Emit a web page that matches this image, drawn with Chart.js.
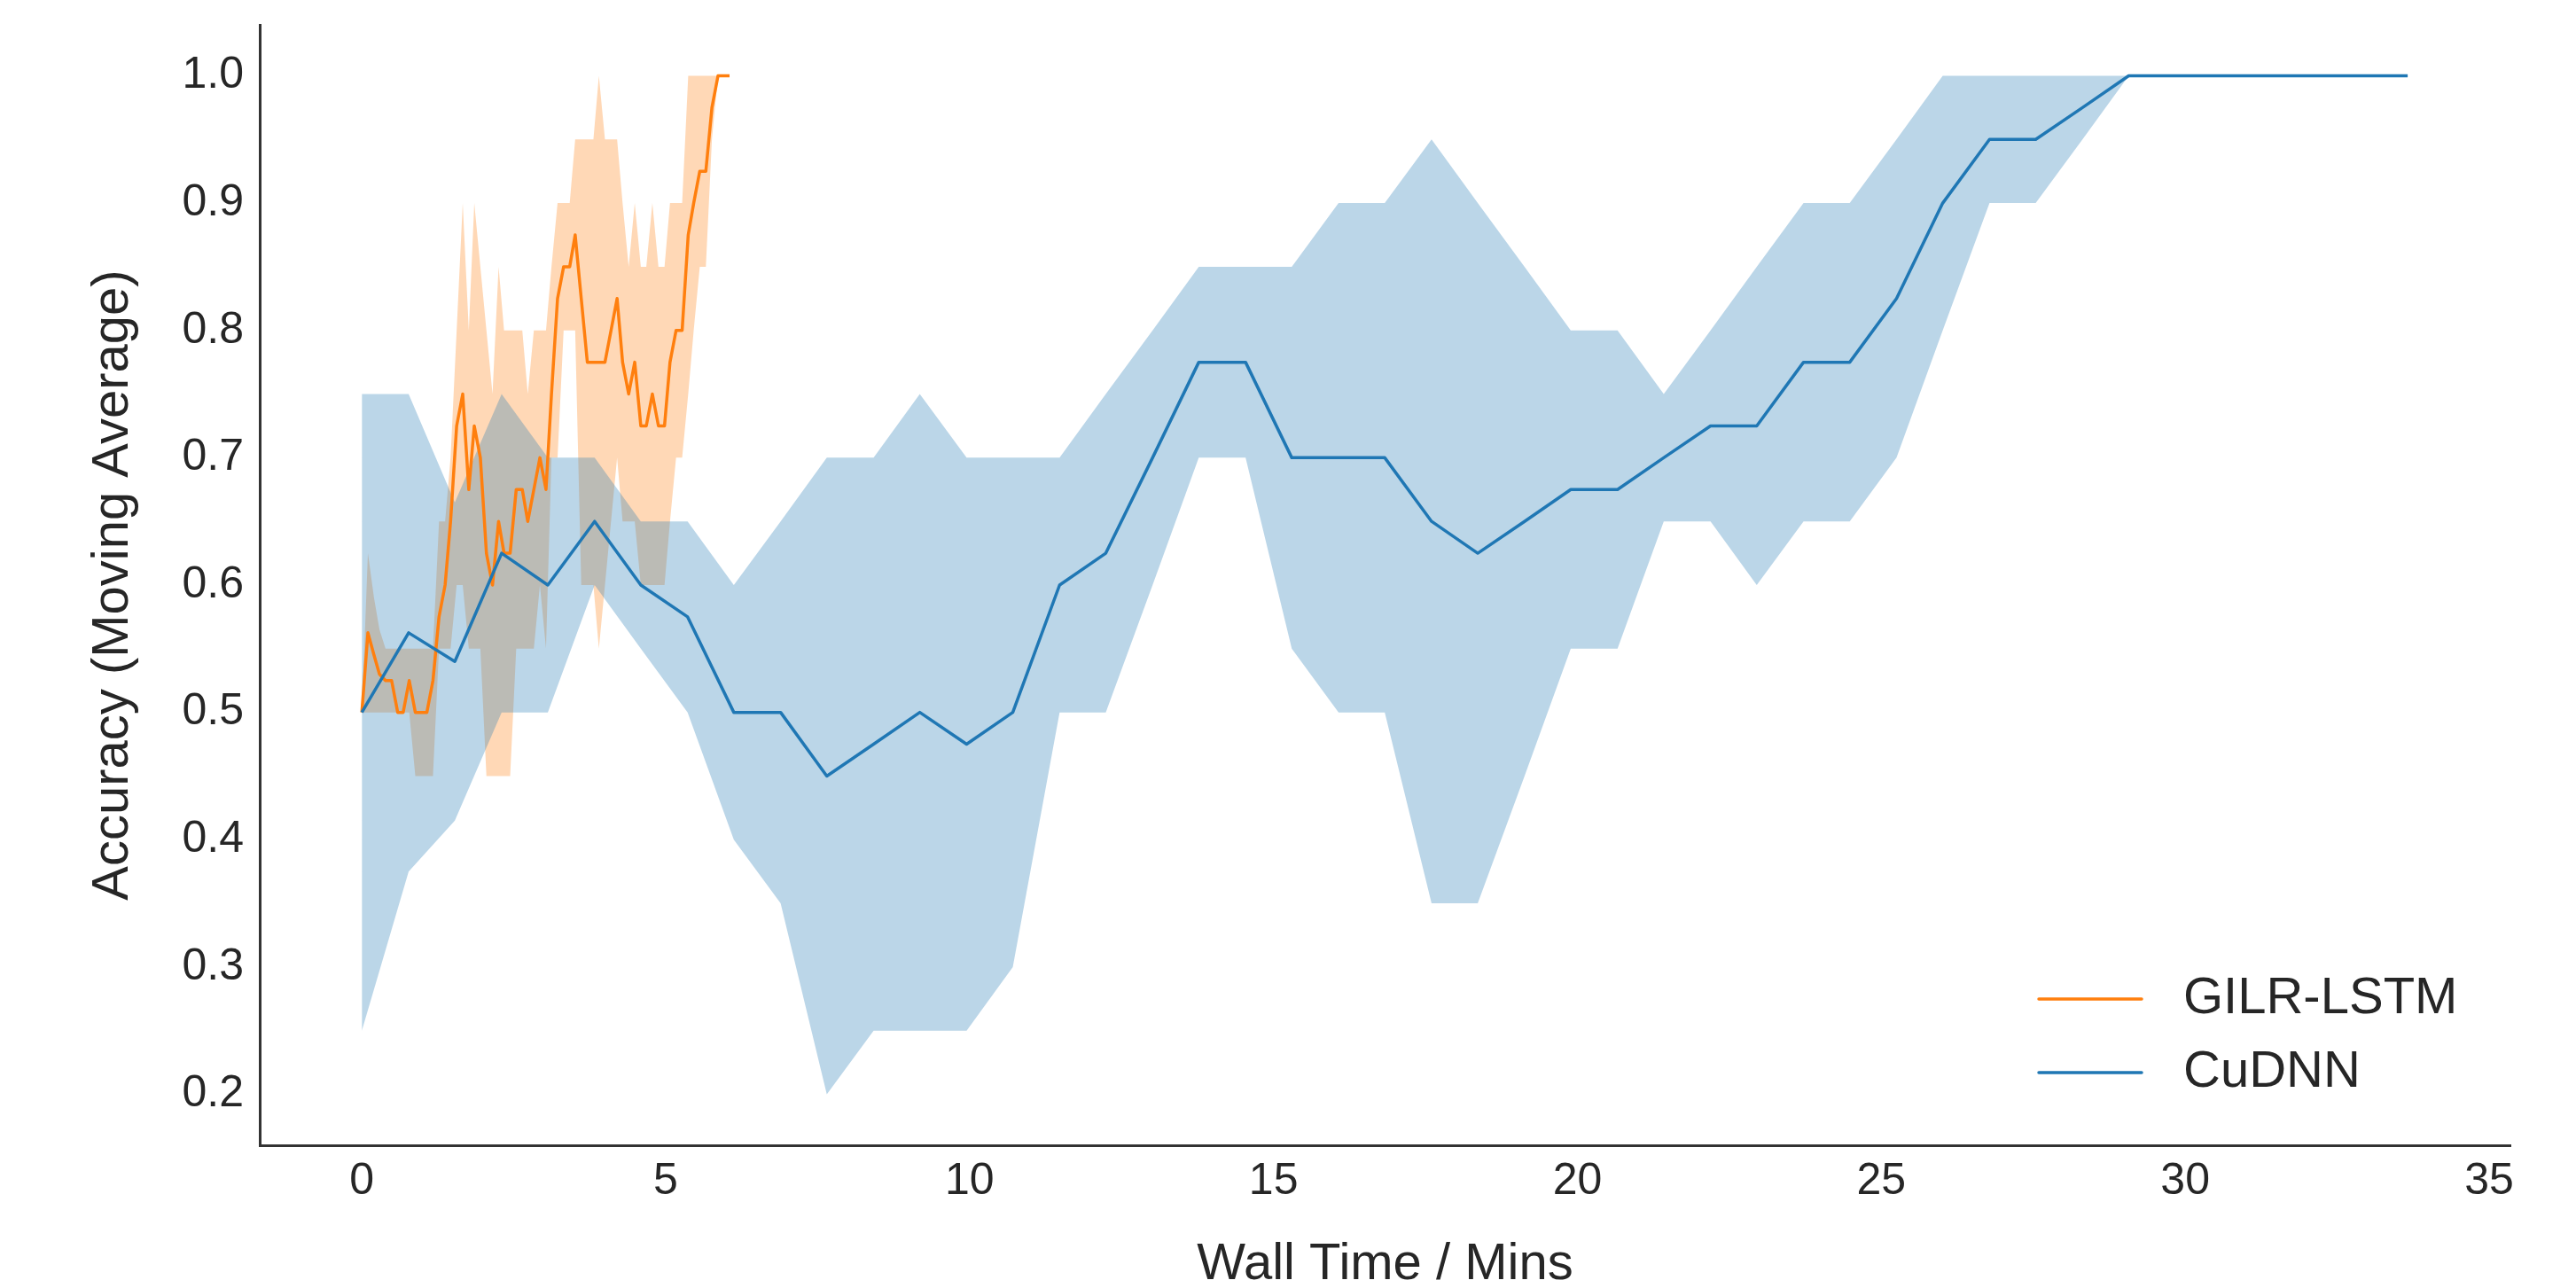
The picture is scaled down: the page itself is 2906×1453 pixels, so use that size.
<!DOCTYPE html>
<html>
<head>
<meta charset="utf-8">
<title>Accuracy vs Wall Time</title>
<script src="https://cdn.jsdelivr.net/npm/chart.js@4.4.1/dist/chart.umd.min.js"></script>
<style>
html,body{margin:0;padding:0;background:#ffffff;overflow:hidden;}
#box{position:relative;width:2906px;height:1453px;}
</style>
</head>
<body>
<div id="box"><canvas id="chart" width="2906" height="1453"></canvas></div>
<script>
const seriesNames = ['GILR-LSTM', 'CuDNN'];

// GILR-LSTM (orange): wall time (mins), moving-average accuracy and band
const gilrTime = [0,0.10,0.20,0.29,0.39,0.49,0.59,0.68,0.78,0.88,0.98,1.07,1.17,1.27,1.37,1.46,1.56,1.66,1.76,1.85,1.95,2.05,2.15,2.25,2.34,2.44,2.54,2.64,2.73,2.83,2.93,3.03,3.12,3.22,3.32,3.42,3.51,3.61,3.71,3.81,3.90,4.00,4.10,4.20,4.29,4.39,4.49,4.59,4.68,4.78,4.88,4.98,5.07,5.17,5.27,5.37,5.46,5.56,5.66,5.76,5.86,5.95,6.05];
const gilrMean = [0.5,0.5625,0.545,0.53,0.525,0.525,0.5,0.5,0.525,0.5,0.5,0.5,0.525,0.575,0.6,0.65,0.725,0.75,0.675,0.725,0.7,0.625,0.6,0.65,0.625,0.625,0.675,0.675,0.65,0.675,0.7,0.675,0.75,0.825,0.85,0.85,0.875,0.825,0.775,0.775,0.775,0.775,0.8,0.825,0.775,0.75,0.775,0.725,0.725,0.75,0.725,0.725,0.775,0.8,0.8,0.875,0.9,0.925,0.925,0.975,1,1,1];
const gilrUpper = [0.5,0.625,0.59,0.565,0.55,0.55,0.55,0.55,0.55,0.55,0.55,0.55,0.55,0.65,0.65,0.7,0.8,0.9,0.8,0.9,0.85,0.8,0.75,0.85,0.8,0.8,0.8,0.8,0.75,0.8,0.8,0.8,0.85,0.9,0.9,0.9,0.95,0.95,0.95,0.95,1,0.95,0.95,0.95,0.9,0.85,0.9,0.85,0.85,0.9,0.85,0.85,0.9,0.9,0.9,1,1,1,1,1,1,1,1];
const gilrLower = [0.5,0.5,0.5,0.5,0.5,0.5,0.5,0.5,0.5,0.45,0.45,0.45,0.45,0.55,0.55,0.55,0.6,0.6,0.55,0.55,0.55,0.45,0.45,0.45,0.45,0.45,0.55,0.55,0.55,0.55,0.6,0.55,0.7,0.7,0.8,0.8,0.8,0.6,0.6,0.6,0.55,0.6,0.65,0.7,0.65,0.65,0.65,0.6,0.6,0.6,0.6,0.6,0.65,0.7,0.7,0.75,0.8,0.85,0.85,0.95,1,1,1];

// CuDNN (blue)
const cudnnTime = [0,0.77,1.53,2.30,3.06,3.83,4.59,5.36,6.12,6.89,7.65,8.42,9.18,9.95,10.71,11.48,12.24,13.01,13.77,14.54,15.30,16.07,16.83,17.60,18.36,19.13,19.89,20.66,21.42,22.19,22.95,23.72,24.48,25.25,26.01,26.78,27.54,28.31,29.07,29.84,30.60,31.37,32.13,32.90,33.66];
const cudnnMean = [0.5,0.5625,0.54,0.625,0.6,0.65,0.6,0.575,0.5,0.5,0.45,0.475,0.5,0.475,0.5,0.6,0.625,0.7,0.775,0.775,0.7,0.7,0.7,0.65,0.625,0.65,0.675,0.675,0.7,0.725,0.725,0.775,0.775,0.825,0.9,0.95,0.95,0.975,1,1,1,1,1,1,1];
const cudnnUpper = [0.75,0.75,0.665,0.75,0.7,0.7,0.65,0.65,0.6,0.65,0.7,0.7,0.75,0.7,0.7,0.7,0.75,0.8,0.85,0.85,0.85,0.9,0.9,0.95,0.9,0.85,0.8,0.8,0.75,0.8,0.85,0.9,0.9,0.95,1,1,1,1,1,1,1,1,1,1,1];
const cudnnLower = [0.25,0.375,0.415,0.5,0.5,0.6,0.55,0.5,0.4,0.35,0.2,0.25,0.25,0.25,0.3,0.5,0.5,0.6,0.7,0.7,0.55,0.5,0.5,0.35,0.35,0.45,0.55,0.55,0.65,0.65,0.6,0.65,0.65,0.7,0.8,0.9,0.9,0.95,1,1,1,1,1,1,1];

const xTickValues = [0,5,10,15,20,25,30,35];
const yTickValues = [0.2,0.3,0.4,0.5,0.6,0.7,0.8,0.9,1.0];

const toPoints = (xs, ys) => xs.map((x, i) => ({x: x, y: ys[i]}));

const ORANGE = '#ff7f0e';
const BLUE = '#1f77b4';
const FONT = "'Liberation Sans', Arial, Helvetica, sans-serif";
const INK = '#262626';
const SPINE = '#333333';
const LINE_W = 3.5;

const legendPlugin = {
  id: 'insideLegend',
  afterDatasetsDraw(chart, args, opts) {
    const ctx = chart.ctx;
    ctx.save();
    ctx.font = opts.fontSize + 'px ' + FONT;
    ctx.textBaseline = 'middle';
    ctx.textAlign = 'left';
    const items = chart.data.datasets.filter(d => d.inLegend).sort((a, b) => a.legendIndex - b.legendIndex);
    items.forEach((d, k) => {
      const y = opts.y0 + k * opts.rowGap;
      ctx.strokeStyle = d.borderColor;
      ctx.lineWidth = d.borderWidth;
      ctx.lineCap = 'round';
      ctx.beginPath();
      ctx.moveTo(opts.lineX0, y);
      ctx.lineTo(opts.lineX1, y);
      ctx.stroke();
      ctx.fillStyle = INK;
      ctx.fillText(d.label, opts.textX, y);
    });
    ctx.restore();
  }
};

const bandStyle = {borderColor: 'rgba(0,0,0,0)', borderWidth: 0, pointRadius: 0, pointHoverRadius: 0};

new Chart(document.getElementById('chart'), {
  type: 'line',
  data: {
    datasets: [
      {label: seriesNames[1], data: toPoints(cudnnTime, cudnnMean), borderColor: BLUE, borderWidth: LINE_W, pointRadius: 0, fill: false, borderJoinStyle: 'round', inLegend: true, legendIndex: 1},
      {label: seriesNames[0], data: toPoints(gilrTime, gilrMean), borderColor: ORANGE, borderWidth: LINE_W, pointRadius: 0, fill: false, borderJoinStyle: 'round', inLegend: true, legendIndex: 0},
      Object.assign({label: 'CuDNN upper', data: toPoints(cudnnTime, cudnnUpper), fill: '+1', backgroundColor: 'rgba(31,119,180,0.3)'}, bandStyle),
      Object.assign({label: 'CuDNN lower', data: toPoints(cudnnTime, cudnnLower), fill: false}, bandStyle),
      Object.assign({label: 'GILR-LSTM upper', data: toPoints(gilrTime, gilrUpper), fill: '+1', backgroundColor: 'rgba(255,127,14,0.3)'}, bandStyle),
      Object.assign({label: 'GILR-LSTM lower', data: toPoints(gilrTime, gilrLower), fill: false}, bandStyle)
    ]
  },
  options: {
    responsive: false,
    animation: false,
    devicePixelRatio: 1,
    layout: {padding: {left: 0, right: 74, top: 28, bottom: 0}},
    elements: {line: {tension: 0}, point: {radius: 0}},
    plugins: {
      legend: {display: false},
      tooltip: {enabled: false},
      filler: {propagate: false},
      insideLegend: {fontSize: 58, y0: 1127, rowGap: 83, lineX0: 2300, lineX1: 2416, textX: 2463}
    },
    scales: {
      x: {
        type: 'linear', min: -1.68, max: 35.35,
        afterBuildTicks: s => { s.ticks = xTickValues.map(v => ({value: v})); },
        afterFit: s => { s.height = 161; s.paddingLeft = 0; s.paddingRight = 0; },
        grid: {display: false, drawTicks: false, tickLength: 0},
        border: {display: true, color: SPINE, width: 3},
        ticks: {font: {size: 50, family: FONT}, color: INK, padding: 11, maxRotation: 0, autoSkip: false, callback: v => String(v)},
        title: {display: true, text: 'Wall Time / Mins', color: INK, font: {size: 58, family: FONT, lineHeight: 0.9}, padding: {top: 0, bottom: 0}}
      },
      y: {
        type: 'linear', min: 0.16, max: 1.04,
        afterBuildTicks: s => { s.ticks = yTickValues.map(v => ({value: v})); },
        afterFit: s => { s.width = 293; s.paddingTop = 0; s.paddingBottom = 0; },
        grid: {display: false, drawTicks: false, tickLength: 0},
        border: {display: true, color: SPINE, width: 3},
        ticks: {font: {size: 50, family: FONT}, color: INK, padding: 18, callback: v => Number(v).toFixed(1)},
        title: {display: true, text: 'Accuracy (Moving Average)', color: INK, font: {size: 58, family: FONT, lineHeight: 1}, padding: {top: 99, bottom: 0}}
      }
    }
  },
  plugins: [legendPlugin]
});
</script>
</body>
</html>
